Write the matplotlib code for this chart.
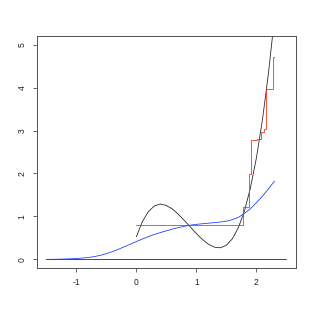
import matplotlib
matplotlib.use('Agg')
import matplotlib.pyplot as plt

# black curve
curve_x = [0.0, 0.1, 0.2, 0.3, 0.4, 0.5, 0.6, 0.7, 0.8, 0.9, 1.0, 1.1,
           1.2, 1.3, 1.4, 1.5, 1.6, 1.7, 1.8, 1.9, 2.0, 2.1, 2.2, 2.3]
curve_y = [0.53, 0.88, 1.11, 1.245, 1.29, 1.255, 1.175, 1.05, 0.905, 0.755,
           0.60, 0.465, 0.355, 0.285, 0.27, 0.33, 0.48, 0.74, 1.12, 1.66,
           2.36, 3.24, 4.32, 5.60]

# blue curve
smooth_x = [-1.5, -1.4, -1.3, -1.2, -1.1, -1.0, -0.9, -0.8, -0.7, -0.6,
            -0.5, -0.4, -0.3, -0.2, -0.1, 0.0, 0.1, 0.2, 0.3, 0.4, 0.5,
            0.6, 0.7, 0.8, 0.9, 1.0, 1.1, 1.2, 1.3, 1.4, 1.5, 1.6, 1.7,
            1.8, 1.9, 2.0, 2.1, 2.2, 2.3]
smooth_y = [0.0, 0.002, 0.005, 0.009, 0.014, 0.021, 0.031, 0.045, 0.066,
            0.095, 0.133, 0.18, 0.235, 0.295, 0.355, 0.415, 0.475, 0.53,
            0.58, 0.625, 0.665, 0.705, 0.74, 0.772, 0.797, 0.815, 0.83,
            0.843, 0.856, 0.87, 0.89, 0.925, 0.98, 1.07, 1.18, 1.32, 1.47,
            1.64, 1.82]

# red step function
step_x = [0.0, 1.783, 1.87, 1.91, 2.005, 2.078, 2.123, 2.155, 2.285, 2.297]
step_y = [0.807, 1.21, 1.98, 2.77, 2.81, 2.96, 3.03, 3.97, 4.71, 4.71]

# baseline
base_x = [-1.5, 2.5]
base_y = [0.0, 0.0]

x_ticks = [-1, 0, 1, 2]
y_ticks = [0, 1, 2, 3, 4, 5]


def main():
    plt.rcParams['font.family'] = ['Liberation Sans', 'DejaVu Sans']
    fig = plt.figure(figsize=(315 / 72.0, 315 / 72.0), dpi=72)
    ax = fig.add_axes([36.7 / 315, 1 - 268 / 315.0, (296 - 36.7) / 315,
                       (268 - 36) / 315.0])

    ax.plot(base_x, base_y, color='#222222', lw=0.8)
    ax.plot(curve_x, curve_y, color='#222222', lw=0.8)
    ax.step(step_x, step_y, where='post', color='#ff2a10', lw=0.8)
    ax.plot(smooth_x, smooth_y, color='#1a3cff', lw=0.8)

    ax.set_xlim(-1.66, 2.66)
    ax.set_ylim(-0.2, 5.2)
    ax.set_xticks(x_ticks)
    ax.set_yticks(y_ticks)
    ax.set_xticklabels([str(t) for t in x_ticks], fontsize=8.5)
    ax.set_yticklabels([str(t) for t in y_ticks], fontsize=8.5,
                       rotation=90, va='center')
    ax.tick_params(length=4, width=0.8, color='#444444', pad=6,
                   labelcolor='#222222')
    for s in ax.spines.values():
        s.set_color('#555555')
        s.set_linewidth(1.0)

    fig.savefig('out.png', dpi=72)


if __name__ == '__main__':
    main()
